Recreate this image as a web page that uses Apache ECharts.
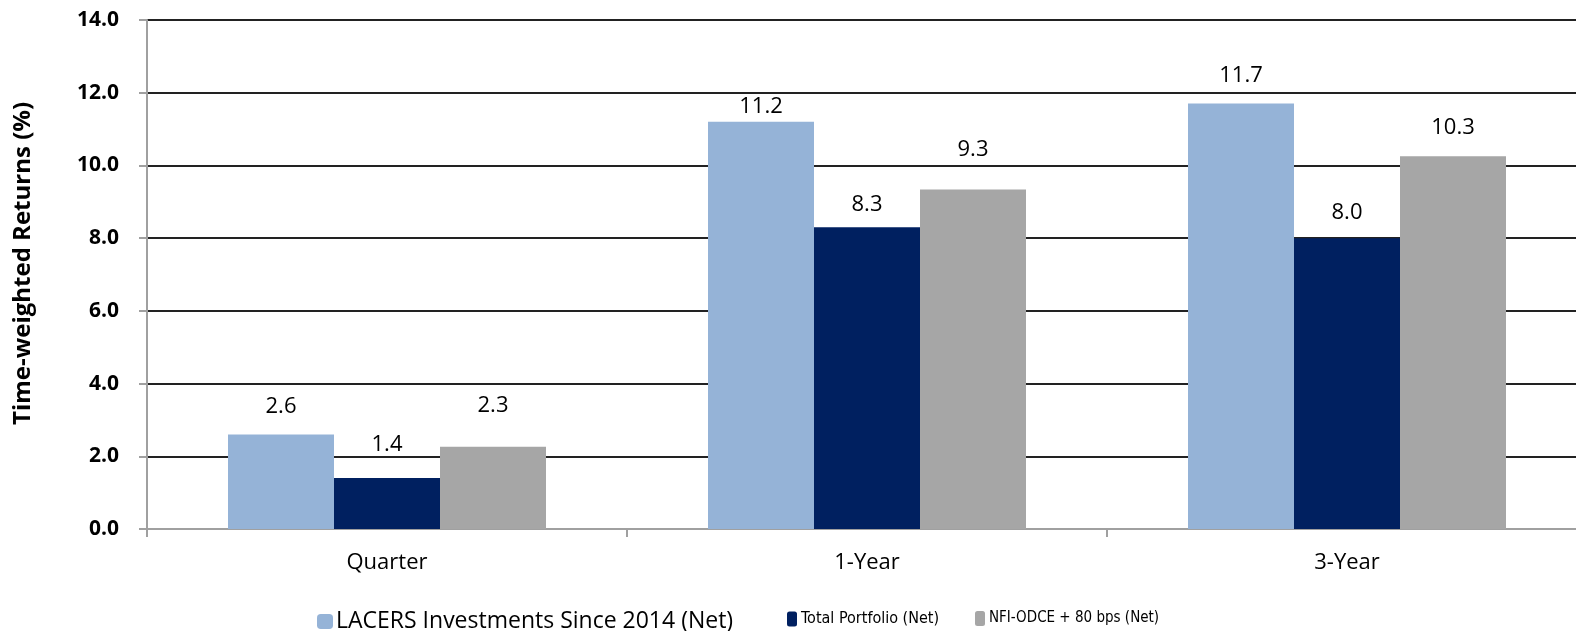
<!DOCTYPE html>
<html><head><meta charset="utf-8">
<script src="https://cdn.jsdelivr.net/npm/echarts@6/dist/echarts.min.js"></script>
<style>html,body{margin:0;padding:0;background:#fff}#c{width:1576px;height:631px}</style>
</head><body><div id="c"></div>
<script>
const categories = ['Quarter', '1-Year', '3-Year'];
const seriesNames = ['LACERS Investments Since 2014 (Net)', 'Total Portfolio (Net)', 'NFI-ODCE + 80 bps (Net)'];
const lacers = [2.6, 11.2, 11.7];
const totalPortfolio = [1.4, 8.3, 8.0];
const nfiOdce = [2.26, 9.34, 10.25];
const colors = ['#95B3D7', '#002060', '#A6A6A6'];
// label distance above each bar (styling, per category)
const labelLift = [[17, 4, 17], [22, 12, 14], [30, 29, 18]];

const chart = echarts.init(document.getElementById('c'));
const TXT = "'Open Sans', sans-serif";
const mk = (i, data) => ({
  name: seriesNames[i], type: 'bar', barWidth: 106, barGap: '0%',
  data: data.map((v, j) => ({value: v, label: {distance: labelLift[i][j]}})),
  itemStyle: {color: colors[i]},
  label: {show: true, position: 'top', color: '#000', fontFamily: TXT, fontSize: 22,
          formatter: p => p.value.toFixed(1)},
  emphasis: {disabled: true}
});
const narrow = "'DejaVu Sans Condensed', 'Liberation Sans Narrow', sans-serif";
chart.setOption({
  animation: false,
  grid: {left: 147, top: 20, width: 1440, height: 509, outerBoundsMode: 'none', containLabel: false},
  legend: [
    {data: [seriesNames[0]], left: 312, top: 605, itemWidth: 16, itemHeight: 15, itemGap: 0,
     textStyle: {fontFamily: TXT, fontSize: 23, color: '#000', padding: [0, 0, 0, -2]}},
    {data: [seriesNames[1]], left: 782, top: 606, itemWidth: 10, itemHeight: 15, itemGap: 0,
     textStyle: {fontFamily: narrow, fontSize: 16, color: '#000', padding: [0, 0, 0, -1]}},
    {data: [seriesNames[2]], left: 970, top: 606, itemWidth: 10, itemHeight: 15, itemGap: 0,
     textStyle: {fontFamily: narrow, fontSize: 15, color: '#000', padding: [0, 0, 0, -1]}}
  ],
  xAxis: {
    type: 'category', data: categories,
    axisLine: {lineStyle: {color: '#A0A0A0', width: 2}},
    axisTick: {show: true, length: 8, lineStyle: {color: '#A0A0A0', width: 2}},
    axisLabel: {color: '#000', fontFamily: TXT, fontSize: 22, margin: 23}
  },
  yAxis: {
    type: 'value', min: 0, max: 14, interval: 2,
    name: 'Time-weighted Returns (%)', nameLocation: 'middle', nameGap: 112, nameRotate: 90,
    nameTextStyle: {fontFamily: TXT, fontWeight: 'bold', fontSize: 24, color: '#000', padding: [0, 0, 0, 22]},
    axisLine: {show: true, lineStyle: {color: '#A0A0A0', width: 2}},
    axisTick: {show: true, length: 8, lineStyle: {color: '#A0A0A0', width: 2}},
    axisLabel: {color: '#000', fontFamily: TXT, fontWeight: 'bold', fontSize: 21, margin: 28,
                formatter: v => v.toFixed(1)},
    splitLine: {lineStyle: {color: '#222', width: 2}}
  },
  series: [mk(0, lacers), mk(1, totalPortfolio), mk(2, nfiOdce)]
});
</script></body></html>
